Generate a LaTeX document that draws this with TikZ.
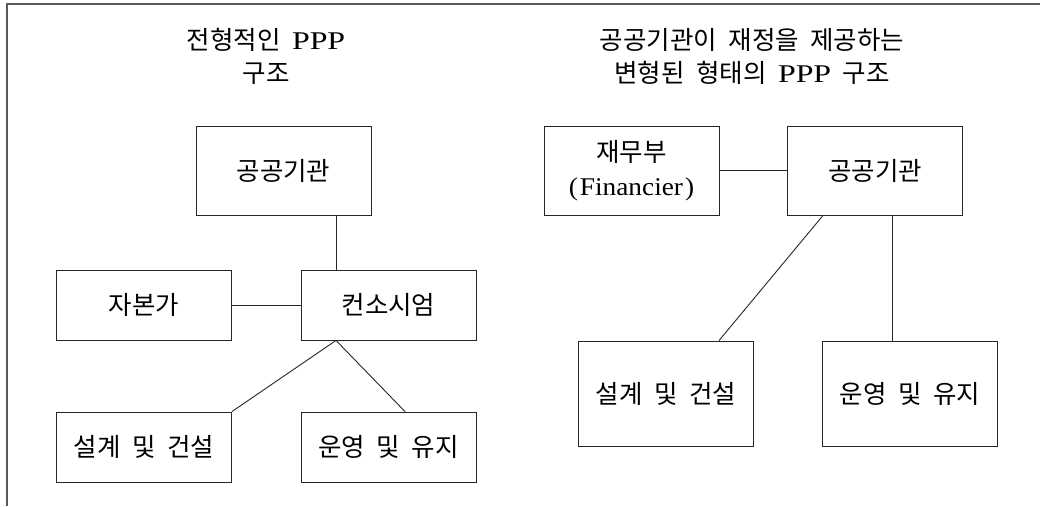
\documentclass[tikz,border=0pt]{standalone}
\usepackage{fontspec}
\setmainfont{Noto Sans CJK KR}[WordSpace=2]
\newfontfamily\lat{Liberation Serif}[FakeStretch=1.07]
\newfontfamily\latw{Liberation Serif}[FakeStretch=1.25]
\begin{document}
\begin{tikzpicture}[x=1pt,y=-1pt,
  box/.style={draw=black!85,line width=0.9pt,inner sep=0pt,minimum width=175pt,align=center,font=\fontsize{25.5}{34}\selectfont},
  tall/.style={box,minimum height=89pt},
  mid/.style={box,minimum height=70pt},
  big/.style={box,minimum height=105pt},
  link/.style={draw=black!85,line width=0.9pt},
  ttl/.style={align=center,font=\fontsize{25.5}{33}\selectfont,inner sep=0pt}]
\useasboundingbox (0,0) rectangle (1040,506);
\draw[gray!70!black,line width=1.3pt] (7,506) -- (7,4) -- (1040,4);
% titles
\node[ttl] (t1) at (266,56.5) {전형적인 {\latw PPP}\\구조};
\node[ttl] (t2) at (752,56.5) {공공기관이 재정을 제공하는\\변형된 형태의 {\latw PPP} 구조};
% left structure
\node[tall] (pubL) at (283.5,170.5) {공공기관};
\node[mid] (cap) at (144,305) {자본가};
\node[mid] (cons) at (388.5,305) {컨소시엄};
\node[mid] (desL) at (144,447) {설계 및 건설};
\node[mid] (opL) at (388.5,447) {운영 및 유지};
\draw[link] ([xshift=-52.5pt]cons.north) coordinate (cn) -- (cn |- pubL.south);
\draw[link] (cap.east) -- (cons.west);
\draw[link] ([xshift=-52.5pt]cons.south) -- (desL.north east);
\draw[link] ([xshift=-52.5pt]cons.south) -- ([xshift=16.5pt]opL.north);
% right structure
\node[tall] (fin) at (631.5,170.5) {재무부\\{\lat (\hspace{2pt}Financier\hspace{2pt})}};
\node[tall] (pubR) at (875,170.5) {공공기관};
\node[big] (desR) at (666,393.5) {설계 및 건설};
\node[big] (opR) at (910,393.5) {운영 및 유지};
\draw[link] (fin.east) -- (pubR.west);
\draw[link] ([xshift=-52pt]pubR.south) -- ([xshift=53pt]desR.north);
\draw[link] ([xshift=-18pt]opR.north) coordinate (on) -- (on |- pubR.south);
\end{tikzpicture}
\end{document}
